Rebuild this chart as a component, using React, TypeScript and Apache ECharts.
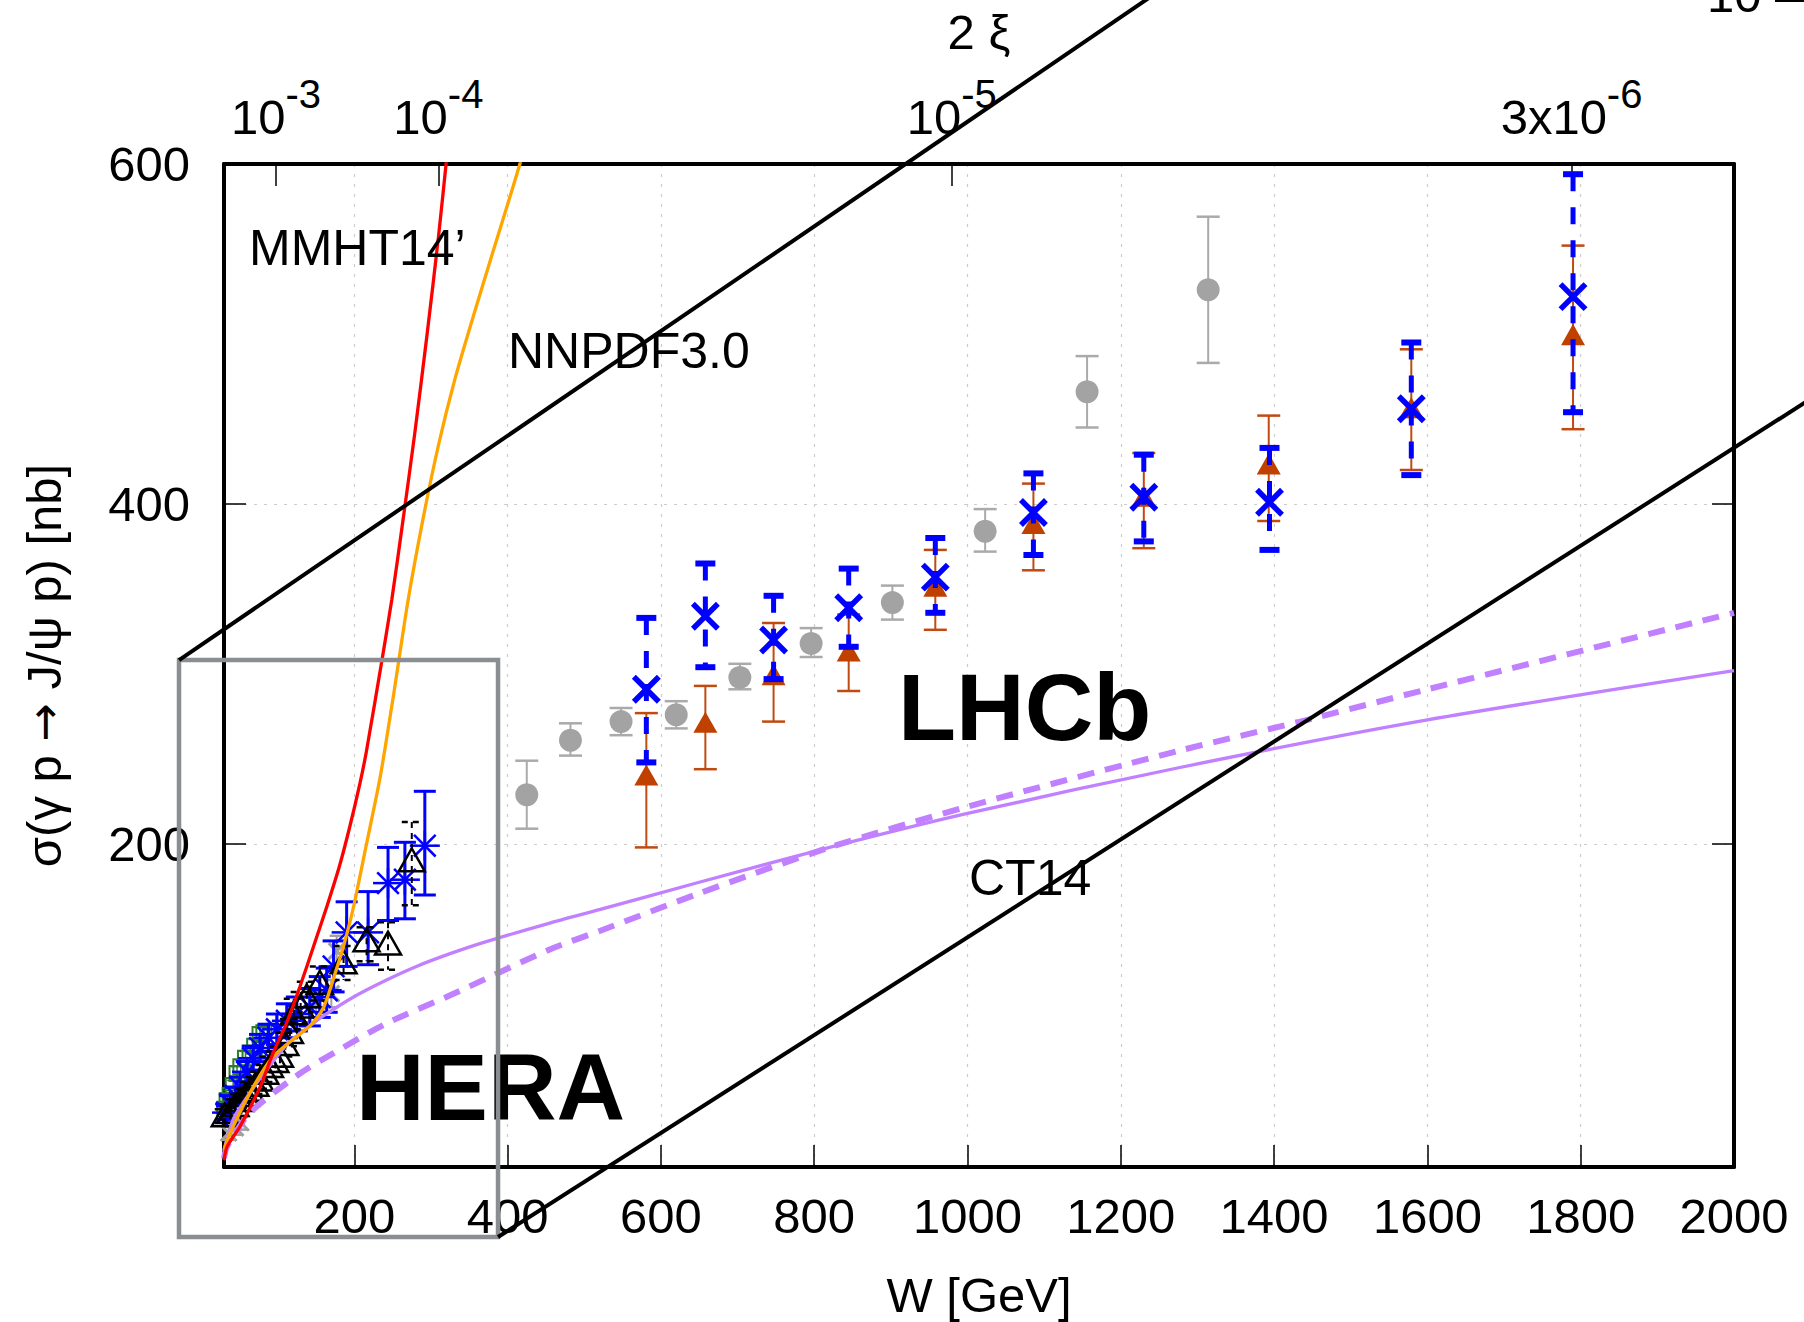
import React, { useEffect, useRef } from "react";
import * as echarts from "echarts";

// ---------- axes ----------
const W_TICKS = [200, 400, 600, 800, 1000, 1200, 1400, 1600, 1800, 2000];
const Y_TICKS = [200, 400, 600];
const M_JPSI = 3.097; // GeV, x = (M/W)^2
const XI_VALUES = [1e-3, 1e-4, 1e-5, 3e-6];
const XI_TICK_LABELS = ["{b|10}{s|-3}", "{b|10}{s|-4}", "{b|10}{s|-5}", "{b|3x10}{s|-6}"];
const XI_W = XI_VALUES.map((x) => M_JPSI / Math.sqrt(x));

// ---------- theory curves ----------
const MMHT_W = [30, 34, 51, 77, 94, 112, 129, 147, 164, 180, 194, 207.5, 216, 236, 249, 264, 279, 295, 310, 322];
const MMHT_S = [14, 22, 34, 57, 77, 95, 116, 140, 163, 186, 210, 236, 255, 308, 344, 392, 442, 500, 558, 610];

const NNPDF_W = [30, 38, 68, 94, 120, 142, 160, 175, 186, 199, 215, 234, 252, 270, 290, 310, 331, 355, 380, 404, 422];
const NNPDF_S = [20, 30, 57, 75, 85, 93, 104, 124, 140, 163, 198, 240, 290, 343, 392, 435, 473, 510, 547, 582, 609];

const CT14_W = [30, 33, 42, 51, 77, 112, 142, 155, 199, 242, 281, 325, 368, 455, 521, 650, 820, 1000, 1277, 1600, 2000];
const CT14_S = [20, 25, 38, 45, 62, 82, 93, 97.5, 110, 120, 128, 135.5, 142, 153.5, 161.5, 177.5, 198, 218, 245, 273, 302];

const CT14D_W = [30, 34, 64, 129, 173, 242, 325, 455, 521, 650, 820, 1000, 1277, 1434, 1600, 2000];
const CT14D_S = [15, 22, 42, 65, 77, 94.5, 111, 138, 149, 171, 198, 222, 255, 272, 291, 336];

// ---------- LHCb data ----------
const LHCB_GRAY_W = [425, 482, 548, 620, 703, 796, 902, 1023, 1156, 1314];
const LHCB_GRAY_S = [229, 261, 272, 276, 298, 318, 342, 384, 466, 526];
const LHCB_GRAY_LO = [209, 252, 264, 268, 291, 310, 332, 372, 445, 483];
const LHCB_GRAY_HI = [249, 271, 280, 284, 306, 327, 352, 397, 487, 569];

const LHCB_TRI_W = [581, 658, 747, 845, 958, 1086, 1230, 1393, 1579, 1790];
const LHCB_TRI_S = [240, 271, 299, 313, 351, 388, 404, 423, 456, 499];
const LHCB_TRI_LO = [198, 244, 272, 290, 326, 361, 374, 390, 420, 444];
const LHCB_TRI_HI = [277, 293, 330, 335, 373, 412, 430, 452, 491, 552];

const LHCB_X_W = [581, 658, 747, 845, 958, 1086, 1230, 1394, 1579, 1790];
const LHCB_X_S = [291, 334, 320, 339, 357, 395, 404, 401, 456, 522];
const LHCB_X_LO = [248, 304, 297, 316, 336, 370, 378, 373, 417, 454];
const LHCB_X_HI = [333, 365, 346, 362, 380, 418, 429, 433, 495, 594];

// ---------- HERA data ----------
const HERA_T_W = [31, 38, 45, 51, 58, 64, 71, 77, 84, 90, 97, 103, 110, 116, 121, 130, 138, 155, 186, 216, 244, 275];
const HERA_T_S = [40, 42, 46, 49, 52, 55, 58, 61, 65, 69, 72, 75, 82, 89, 100, 104, 110, 118, 130, 143, 141, 190];
const HERA_T_LO = [36, 38, 42, 45, 48, 50, 53, 56, 60, 63, 66, 69, 75, 81, 91, 95, 101, 108, 120, 131, 126, 164];
const HERA_T_HI = [44, 46, 50, 53, 56, 60, 63, 66, 70, 75, 78, 81, 89, 97, 109, 113, 119, 128, 140, 151, 154, 213];

const HERA_Z_W = [34, 38, 45, 51, 60, 68, 77, 88, 99, 112, 125, 142, 155, 164, 173, 190, 218, 244, 266, 292];
const HERA_Z_S = [42, 47, 52, 57, 66, 74, 80, 86, 91, 96, 100, 104, 110, 114, 128, 148, 148, 177, 179, 199];
const HERA_Z_LO = [38, 42, 47, 51, 60, 67, 72, 78, 82, 86, 90, 93, 98, 101, 113, 128, 129, 155, 156, 170];
const HERA_Z_HI = [46, 52, 57, 63, 72, 81, 88, 94, 100, 106, 110, 115, 122, 127, 143, 166, 172, 198, 201, 231];

const HERA_G_W = [31, 34, 38, 42, 47, 52, 58, 64, 70, 77, 82];
const HERA_G_S = [44, 49, 52, 58, 65, 69, 74, 77, 81, 88, 89];
const HERA_G_LO = [41, 46, 49, 55, 61, 65, 70, 73, 77, 84, 85];
const HERA_G_HI = [47, 52, 55, 61, 69, 73, 78, 81, 85, 92, 93];

const HERA_X_W = [36, 45, 52, 150, 170, 177];
const HERA_X_S = [30, 33, 36, 106, 112, 137];
const HERA_X_LO = [26, 29, 32, 98, 104, 128];
const HERA_X_HI = [34, 37, 40, 114, 120, 146];

const FONT = "'Liberation Sans', Arial, Helvetica, sans-serif";

type Kind = "circle" | "tri" | "otri" | "x" | "ast" | "sq";
interface PStyle {
  color: string;
  barWidth: number;
  barDash?: number[];
  capLen: number;
  capWidth: number;
  capDash?: number[];
  kind: Kind;
  size: number;
  mColor?: string;
  mWidth?: number;
}

function markerShapes(st: PStyle, cx: number, cy: number): any[] {
  const r = st.size / 2;
  const mc = st.mColor || st.color;
  const mw = st.mWidth || 2;
  const ls = { stroke: mc, lineWidth: mw, fill: "none" };
  switch (st.kind) {
    case "circle":
      return [{ type: "circle", shape: { cx, cy, r }, style: { fill: mc } }];
    case "tri":
    case "otri": {
      const w = st.size;
      const h = st.size * 0.88;
      const pts = [
        [cx, cy - h * 0.55],
        [cx - w / 2, cy + h * 0.45],
        [cx + w / 2, cy + h * 0.45],
      ];
      return [
        {
          type: "polygon",
          shape: { points: pts },
          style: st.kind === "tri" ? { fill: mc } : { ...ls, lineJoin: "miter" },
        },
      ];
    }
    case "x":
      return [
        { type: "line", shape: { x1: cx - r, y1: cy - r, x2: cx + r, y2: cy + r }, style: ls },
        { type: "line", shape: { x1: cx - r, y1: cy + r, x2: cx + r, y2: cy - r }, style: ls },
      ];
    case "ast": {
      const d = r * 0.72;
      return [
        { type: "line", shape: { x1: cx - r, y1: cy, x2: cx + r, y2: cy }, style: ls },
        { type: "line", shape: { x1: cx, y1: cy - r, x2: cx, y2: cy + r }, style: ls },
        { type: "line", shape: { x1: cx - d, y1: cy - d, x2: cx + d, y2: cy + d }, style: ls },
        { type: "line", shape: { x1: cx - d, y1: cy + d, x2: cx + d, y2: cy - d }, style: ls },
      ];
    }
    case "sq":
      return [{ type: "rect", shape: { x: cx - r, y: cy - r, width: st.size, height: st.size }, style: ls }];
  }
  return [];
}

function pointSeries(name: string, W: number[], S: number[], LO: number[], HI: number[], st: PStyle, z: number) {
  return {
    type: "custom",
    name,
    z,
    data: W.map((w, i) => [w, S[i], LO[i], HI[i]]),
    encode: { x: 0, y: 1 },
    renderItem: (_params: any, api: any) => {
      const c = api.coord([api.value(0), api.value(1)]);
      const t = api.coord([api.value(0), api.value(3)]);
      const b = api.coord([api.value(0), api.value(2)]);
      const hc = st.capLen / 2;
      const barStyle = { stroke: st.color, lineWidth: st.barWidth, lineDash: st.barDash || null, fill: "none" };
      const capStyle = { stroke: st.color, lineWidth: st.capWidth, lineDash: st.capDash || null, fill: "none" };
      const children: any[] = [
        { type: "line", shape: { x1: c[0], y1: t[1], x2: c[0], y2: b[1] }, style: barStyle },
        { type: "line", shape: { x1: c[0] - hc, y1: t[1], x2: c[0] + hc, y2: t[1] }, style: capStyle },
        { type: "line", shape: { x1: c[0] - hc, y1: b[1], x2: c[0] + hc, y2: b[1] }, style: capStyle },
        ...markerShapes(st, c[0], c[1]),
      ];
      return { type: "group", children };
    },
  };
}

function curve(name: string, W: number[], S: number[], color: string, width: number, dash: any, z: number) {
  return {
    type: "line",
    name,
    z,
    data: W.map((w, i) => [w, S[i]]),
    showSymbol: false,
    smooth: 0.25,
    clip: true,
    lineStyle: { color, width, type: dash },
  };
}

const X_MIN = 30, X_MAX = 2000, Y_MIN = 10, Y_MAX = 600;

function buildOption(): any {
  const axisLineStyle = { color: "#000", width: 4 };
  const tickStyle = { color: "#000", width: 1.5 };
  const gridLine = { show: true, lineStyle: { color: "#cccccc", width: 1.2, type: [3, 7] } };
  const labelStyle = { fontSize: 49, color: "#000", fontFamily: FONT };

  return {
    animation: false,
    backgroundColor: "#ffffff",
    grid: { left: 224, right: 70, top: 164, bottom: 155, containLabel: false, outerBoundsMode: "none" },
    xAxis: [
      {
        type: "value",
        position: "bottom",
        min: X_MIN,
        max: X_MAX,
        axisLine: { show: true, onZero: false, lineStyle: axisLineStyle },
        axisTick: { show: true, inside: true, length: 22, customValues: W_TICKS, lineStyle: tickStyle },
        axisLabel: { ...labelStyle, customValues: W_TICKS, margin: 24, formatter: (v: number) => String(v) },
        splitLine: gridLine,
        name: "W [GeV]",
        nameLocation: "middle",
        nameGap: 103,
        nameTextStyle: labelStyle,
      },
      {
        type: "value",
        position: "top",
        min: X_MIN,
        max: X_MAX,
        axisLine: { show: true, onZero: false, lineStyle: axisLineStyle },
        axisTick: { show: true, inside: true, length: 22, customValues: XI_W, lineStyle: tickStyle },
        axisLabel: {
          customValues: XI_W,
          margin: 23,
          formatter: (v: number) => {
            const i = XI_W.findIndex((w) => Math.abs(w - v) < 1e-3);
            return i >= 0 ? XI_TICK_LABELS[i] : "";
          },
          rich: {
            b: { fontSize: 49, color: "#000", fontFamily: FONT, padding: [18, 0, 0, 0], verticalAlign: "bottom" },
            s: { fontSize: 40, color: "#000", fontFamily: FONT, verticalAlign: "top" },
          },
        },
        splitLine: { show: false },
        name: "2 ξ",
        nameLocation: "middle",
        nameGap: 108,
        nameTextStyle: labelStyle,
      },
    ],
    yAxis: [
      {
        type: "value",
        position: "left",
        min: Y_MIN,
        max: Y_MAX,
        axisLine: { show: true, onZero: false, lineStyle: axisLineStyle },
        axisTick: { show: true, inside: true, length: 22, customValues: Y_TICKS, lineStyle: tickStyle },
        axisLabel: { ...labelStyle, customValues: Y_TICKS, margin: 34 },
        splitLine: gridLine,
        name: "{t|σ(γ p }{a|→}{t| J/ψ p) [nb]}",
        nameLocation: "middle",
        nameGap: 156,
        nameRotate: 90,
        nameTextStyle: {
          ...labelStyle,
          rich: {
            t: { fontSize: 49, color: "#000", fontFamily: FONT },
            a: { fontSize: 46, color: "#000", fontFamily: "'DejaVu Sans', sans-serif" },
          },
        },
      },
      {
        type: "value",
        position: "right",
        min: Y_MIN,
        max: Y_MAX,
        axisLine: { show: true, onZero: false, lineStyle: axisLineStyle },
        axisTick: { show: true, inside: true, length: 22, customValues: Y_TICKS, lineStyle: tickStyle },
        axisLabel: { show: false },
        splitLine: { show: false },
      },
    ],
    series: [
      // HERA
      pointSeries("HERA green", HERA_G_W, HERA_G_S, HERA_G_LO, HERA_G_HI,
        { color: "#2a7d2a", barWidth: 1.5, capLen: 12, capWidth: 1.5, kind: "sq", size: 15, mWidth: 2 }, 3),
      pointSeries("HERA gray", HERA_X_W, HERA_X_S, HERA_X_LO, HERA_X_HI,
        { color: "#a0a0a0", barWidth: 2, capLen: 14, capWidth: 2.5, kind: "x", size: 16, mWidth: 3 }, 3),
      pointSeries("HERA ZEUS", HERA_Z_W, HERA_Z_S, HERA_Z_LO, HERA_Z_HI,
        { color: "#0000ff", barWidth: 3, capLen: 22, capWidth: 3, kind: "ast", size: 30, mWidth: 2.5 }, 4),
      pointSeries("HERA H1", HERA_T_W, HERA_T_S, HERA_T_LO, HERA_T_HI,
        { color: "#000000", barWidth: 2, barDash: [6, 5], capLen: 20, capWidth: 2.5, capDash: [6, 5], kind: "otri", size: 26, mWidth: 2.5 }, 5),
      // LHCb
      pointSeries("LHCb gray", LHCB_GRAY_W, LHCB_GRAY_S, LHCB_GRAY_LO, LHCB_GRAY_HI,
        { color: "#aaaaaa", barWidth: 2, capLen: 23, capWidth: 2.5, kind: "circle", size: 23, mColor: "#a3a3a3" }, 4),
      pointSeries("LHCb tri", LHCB_TRI_W, LHCB_TRI_S, LHCB_TRI_LO, LHCB_TRI_HI,
        { color: "#c04a10", barWidth: 2, capLen: 23, capWidth: 2.5, kind: "tri", size: 24, mColor: "#c04000" }, 5),
      pointSeries("LHCb X", LHCB_X_W, LHCB_X_S, LHCB_X_LO, LHCB_X_HI,
        { color: "#0000ff", barWidth: 5, barDash: [17, 16], capLen: 20, capWidth: 6, kind: "x", size: 25, mWidth: 5.5 }, 6),
      // theory curves
      curve("CT14 dashed", CT14D_W, CT14D_S, "#c080ff", 6, [17, 11], 8),
      curve("CT14", CT14_W, CT14_S, "#c080ff", 3.3, "solid", 8),
      curve("NNPDF3.0", NNPDF_W, NNPDF_S, "#ffa500", 3.3, "solid", 9),
      curve("MMHT14'", MMHT_W, MMHT_S, "#ff0000", 3.3, "solid", 9),
    ],
  };
}

// zoom box (HERA region) and connector lines, in data coordinates; they lie partly outside the axes
const ZOOM_BOX = { w0: -28.7, w1: 387.5, s0: -31.2, s1: 308.2 };
const CONNECTOR_1 = [[-28.7, 308.2], [1300, 717.2]];
const CONNECTOR_2 = [[387.5, -31.2], [2200, 490.6]];

function buildGraphic(chart: any): any[] {
  const p0 = chart.convertToPixel({ xAxisIndex: 0, yAxisIndex: 0 }, [X_MIN, Y_MIN]);
  const p1 = chart.convertToPixel({ xAxisIndex: 0, yAxisIndex: 0 }, [X_MAX, Y_MAX]);
  const px = (w: number, s: number) => [
    p0[0] + ((w - X_MIN) / (X_MAX - X_MIN)) * (p1[0] - p0[0]),
    p0[1] + ((s - Y_MIN) / (Y_MAX - Y_MIN)) * (p1[1] - p0[1]),
  ];
  const b = ZOOM_BOX;
  const boxPts = [px(b.w0, b.s1), px(b.w1, b.s1), px(b.w1, b.s0), px(b.w0, b.s0)];
  const c1a = px(CONNECTOR_1[0][0], CONNECTOR_1[0][1]);
  const c1b = px(CONNECTOR_1[1][0], CONNECTOR_1[1][1]);
  const c2a = px(CONNECTOR_2[0][0], CONNECTOR_2[0][1]);
  const c2b = px(CONNECTOR_2[1][0], CONNECTOR_2[1][1]);
  const txt = (text: string, left: number, top: number, size: number, bold = false) => ({
    type: "text",
    z: 50,
    left,
    top,
    style: { text, fontSize: size, fontWeight: bold ? "bold" : "normal", fontFamily: FONT, fill: "#000" },
  });
  return [
    txt("MMHT14’", 249, 223, 50),
    txt("NNPDF3.0", 508, 326, 50),
    txt("CT14", 969, 853, 50),
    txt("LHCb", 898, 659, 95, true),
    txt("HERA", 356, 1039, 95, true),
    txt("10", 1707, -30, 49),
    { type: "line", z: 50, shape: { x1: 1775, y1: 1, x2: 1804, y2: 1 }, style: { stroke: "#000", lineWidth: 2 } },
    {
      type: "polygon",
      z: 60,
      shape: { points: boxPts },
      style: { fill: "none", stroke: "#8a8d91", lineWidth: 4.5, lineJoin: "miter" },
    },
    { type: "line", z: 61, shape: { x1: c1a[0], y1: c1a[1], x2: c1b[0], y2: c1b[1] }, style: { stroke: "#000", lineWidth: 4 } },
    { type: "line", z: 61, shape: { x1: c2a[0], y1: c2a[1], x2: c2b[0], y2: c2b[1] }, style: { stroke: "#000", lineWidth: 4 } },
  ];
}

export default function App() {
  const ref = useRef<HTMLDivElement>(null);
  useEffect(() => {
    if (!ref.current) return;
    const chart = echarts.init(ref.current, null, { renderer: "svg" });
    chart.setOption(buildOption());
    chart.setOption({ graphic: buildGraphic(chart) });
    return () => chart.dispose();
  }, []);
  return (
    <div
      ref={ref}
      style={{ position: "absolute", left: 0, top: 0, width: 1804, height: 1322, background: "#fff" }}
    />
  );
}
